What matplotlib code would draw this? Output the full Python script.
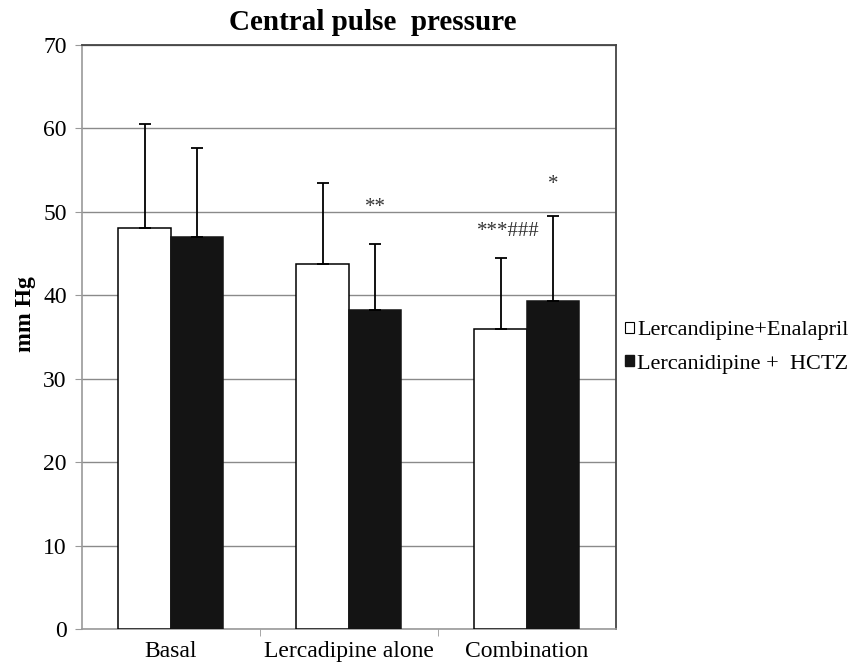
import matplotlib.pyplot as plt
from matplotlib.patches import Patch
import numpy as np

categories = ["Basal", "Lercadipine alone", "Combination"]
enalapril_mean = [48.1, 43.7, 36.0]
enalapril_sd = [12.4, 9.8, 8.5]
hctz_mean = [47.0, 38.2, 39.3]
hctz_sd = [10.7, 7.9, 10.2]
series_names = ["Lercandipine+Enalapril", "Lercanidipine +  HCTZ"]

# significance marks: (category, which bar, height, text)
marks = [(1, 1, 50.5, "**"), (2, 0, 47.6, "***###"), (2, 1, 53.3, "*")]

plt.rcParams['font.family'] = ['Liberation Serif', 'DejaVu Serif']

fig = plt.figure(figsize=(8.61, 6.66), dpi=100)
ax = fig.add_axes([0.0952, 0.0556, 0.6202, 0.8768])

x = np.arange(len(categories))
w = 0.295
err_kw = dict(ecolor='black', elinewidth=1.3, capsize=4, capthick=1.3)

ax.bar(x - w / 2, enalapril_mean, w, color='white', edgecolor='black', linewidth=1.1,
       yerr=[np.zeros(3), enalapril_sd], error_kw=err_kw, zorder=3)
ax.bar(x + w / 2, hctz_mean, w, color='#141414', edgecolor='#141414', linewidth=1.1,
       yerr=[np.zeros(3), hctz_sd], error_kw=err_kw, zorder=3)

for cat, side, h, txt in marks:
    xpos = cat + (w / 2 if side else -w / 2)
    if txt.startswith('***'):
        xpos += 0.04
    ax.text(xpos, h, txt, ha='center', va='center', fontsize=15, color='#333333')

ax.set_xlim(-0.5, 2.5)
ax.set_ylim(0, 70)
ax.set_yticks(range(0, 71, 10))
ax.set_xticks(x)
ax.set_xticklabels(categories, fontsize=17)
ax.set_xticks([0.5, 1.5], minor=True)
ax.tick_params(axis='x', which='major', length=0, pad=9)
ax.tick_params(axis='x', which='minor', length=5, color='#999999')
ax.tick_params(axis='y', labelsize=17, length=5, color='#999999', pad=6)

ax.yaxis.grid(True, color='#8a8a8a', linewidth=1.0, zorder=0)
ax.set_axisbelow(True)
for side in ['left', 'bottom']:
    ax.spines[side].set_color('#9a9a9a')
    ax.spines[side].set_linewidth(1.2)
for side in ['top', 'right']:
    ax.spines[side].set_color('#444444')
    ax.spines[side].set_linewidth(1.3)

fig.text(0.030, 0.528, "mm Hg", rotation=90, ha='center', va='center',
         fontsize=17, fontweight='bold')
fig.text(0.433, 0.966, "Central pulse  pressure", ha='center', va='center',
         fontsize=21, fontweight='bold')

handles = [Patch(facecolor='white', edgecolor='black', linewidth=0.8),
           Patch(facecolor='#141414', edgecolor='#141414')]
ax.legend(handles, series_names, loc='center left', bbox_to_anchor=(1.004, 0.482),
          frameon=False, fontsize=16, handlelength=0.4, handleheight=0.4,
          handletextpad=0.15, labelspacing=0.65, borderaxespad=0.0,
          borderpad=0.3)

fig.savefig("out.png", dpi=100)
